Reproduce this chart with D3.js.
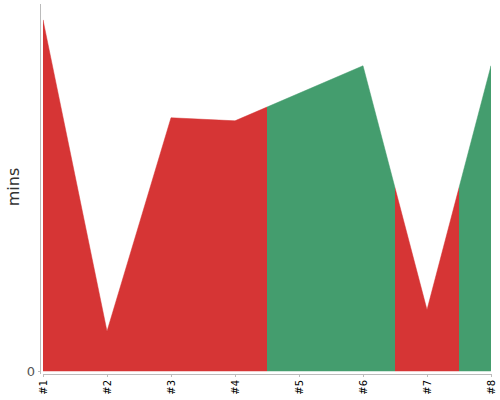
<html>
<script src="https://d3js.org/d3.v7.min.js"></script>
<style>
    body { margin: 0; }
    .axis path, .axis line { stroke: #bbb; }
    .x.axis text { font-family: "DejaVu Sans", sans-serif; font-size: 10px; fill: #000; }
    .y.axis text { font-family: "DejaVu Sans", sans-serif; font-size: 13px; fill: #555; }
    .ylabel { font-family: "DejaVu Sans", sans-serif; font-size: 16px; fill: #333; }
</style>
<svg width=500 height=400></svg>
<script>
    let runs = ['#1', '#2', '#3', '#4', '#5', '#6', '#7', '#8'];
    let mins = [57.4, 6.5, 41.4, 40.9, 45.4, 49.9, 10.0, 49.9];
    let status = ['bad', 'bad', 'bad', 'bad', 'good', 'good', 'bad', 'good'];
    let colors = { bad: '#d63535', good: '#449d6e' };

    let svg = d3.select('svg');

    let x = d3.scalePoint().domain(runs).range([43, 491]);
    let y = d3.scaleLinear().domain([0, 60]).range([371, 4]);
    let step = x.step();

    let data = runs.map((r, i) => ({ run: r, v: mins[i], s: status[i] }));

    let area = d3.area()
        .x(d => x(d.run))
        .y0(y(0))
        .y1(d => y(d.v));

    // one copy of the area per run, clipped to half a step either side
    let defs = svg.append('defs');
    data.forEach((d, i) => {
        let x0 = Math.max(x(d.run) - step / 2, x(runs[0]));
        let x1 = Math.min(x(d.run) + step / 2, x(runs[runs.length - 1]));
        defs.append('clipPath').attr('id', 'c' + i)
          .append('rect')
            .attr('x', x0).attr('y', 0)
            .attr('width', x1 - x0).attr('height', 400);
        svg.append('path')
            .datum(data)
            .attr('d', area)
            .attr('fill', colors[d.s])
            .attr('stroke', colors[d.s])
            .attr('stroke-width', 0.5)
            .attr('clip-path', 'url(#c' + i + ')');
    });

    svg.append('g')
        .attr('class', 'x axis')
        .attr('transform', 'translate(0,374)')
        .call(d3.axisBottom(x).tickSize(3).tickSizeOuter(0))
        .selectAll('text')
        .attr('transform', 'rotate(-90)')
        .attr('text-anchor', 'end')
        .attr('x', -6)
        .attr('y', 0)
        .attr('dy', '0.35em');

    let yAxis = svg.append('g')
        .attr('class', 'y axis')
        .attr('transform', 'translate(40,0)')
        .call(d3.axisLeft(y).tickValues([0]).tickSize(2).tickSizeOuter(0));
    yAxis.select('.domain').attr('d', 'M0.5,4V374');

    svg.append('text')
        .attr('class', 'ylabel')
        .attr('transform', 'translate(19,187) rotate(-90)')
        .attr('text-anchor', 'middle')
        .text('mins');
</script>
</html>
